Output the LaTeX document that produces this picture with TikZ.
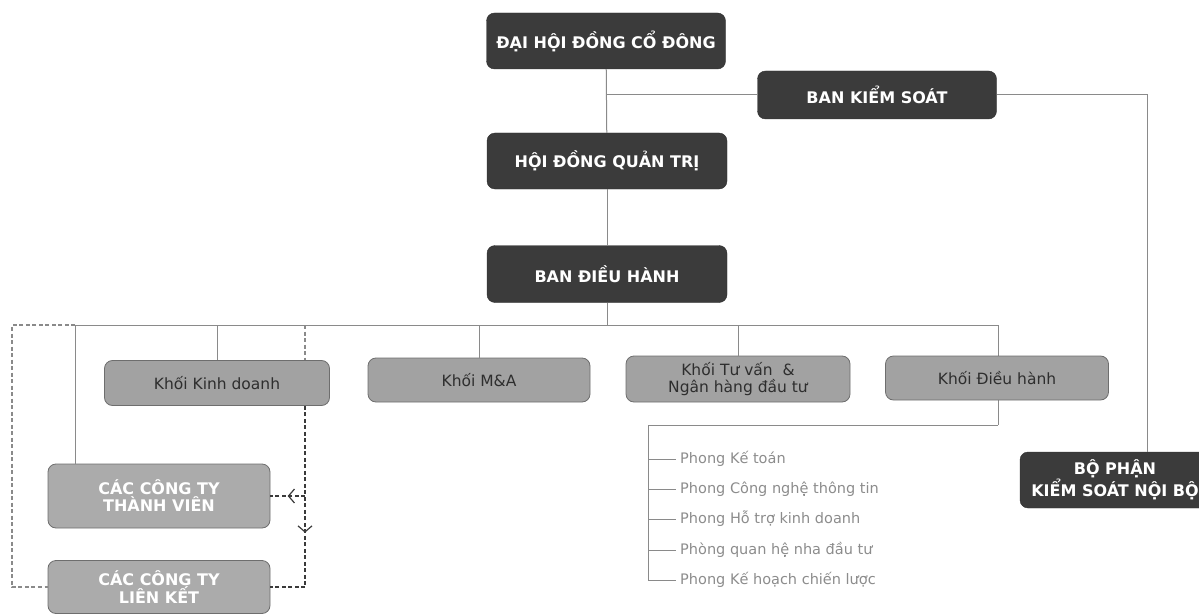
\documentclass[tikz,border=0pt]{standalone}
\usepackage{fontspec}
\setmainfont{DejaVu Sans}
\usetikzlibrary{decorations.markings}
\usetikzlibrary{arrows.meta}
\usetikzlibrary{math}

\definecolor{BoxDark}{HTML}{3B3B3B}
\definecolor{BoxGray}{HTML}{A2A2A2}
\definecolor{BoxLight}{HTML}{ABABAB}
\definecolor{BoxEdge}{HTML}{6E6E6E}
\definecolor{LineGray}{HTML}{8A8A8A}
\definecolor{DashDark}{HTML}{3A3A3A}
\definecolor{TextDark}{HTML}{2E2E2E}
\definecolor{TextGray}{HTML}{8C8C8C}

\tikzset{
    darkbox/.style={rounded corners=8pt, fill=BoxDark, draw=BoxDark!80!black, text=white,
        font=\bfseries\fontsize{16}{19}\selectfont, align=center, inner sep=0pt},
    graybox/.style={rounded corners=8pt, fill=BoxGray, draw=BoxEdge, line width=0.8pt, text=TextDark,
        font=\fontsize{15.5}{17}\selectfont, align=center, inner sep=0pt},
    lightbox/.style={rounded corners=8pt, fill=BoxLight, draw=BoxEdge, line width=0.8pt, text=white,
        font=\bfseries\fontsize{16}{17}\selectfont, align=center, inner sep=0pt},
    link/.style={draw=LineGray, line width=1pt},
    dashlight/.style={draw=LineGray, line width=1.4pt, dash pattern=on 4pt off 2.5pt},
    dashheavy/.style={draw=DashDark, line width=1.8pt, dash pattern=on 4pt off 2.5pt},
    phongitem/.style={anchor=west, text=TextGray, inner sep=0pt, font=\fontsize{14.5}{17}\selectfont},
}

\begin{document}
\begin{tikzpicture}[x=1pt, y=-1pt]

\useasboundingbox (0,0) rectangle (1199,615);

% Position settings
\tikzmath{
    \TrunkX = 606;
    \BusY = 325;
    \BusLeftX = 75;
    \BusRightX = 998;
    \OuterDashX = 12;
    \InnerDashX = 305;
    \DashBotY = 587;
    \KSRightX = 1147;
    \PhongX = 648;
    \PhongY = 425;
}

\coordinate (BusL) at (\BusLeftX, \BusY);
\coordinate (BusR) at (\BusRightX, \BusY);
\coordinate (OuterTop) at (\OuterDashX, \BusY);
\coordinate (DashTop) at (\InnerDashX, \BusY);
\coordinate (DashBot) at (\InnerDashX, \DashBotY);
\coordinate (PhongTop) at (\PhongX, \PhongY);
\coordinate (KSTurn) at (\KSRightX, 95);

% Lines running behind boxes
\draw [link] (BusR) -- (BusR |- PhongTop);
\draw [dashlight] (DashTop) -- (\InnerDashX, 405);

% Top management
\node [darkbox, minimum width=239pt, minimum height=56pt] (DHDCD) at (606, 41) {ĐẠI HỘI ĐỒNG CỔ ĐÔNG};
\node [darkbox, minimum width=239pt, minimum height=48pt] (BKS) at (877, 95) {BAN KIỂM SOÁT};
\node [darkbox, minimum width=240pt, minimum height=56pt] (HDQT) at (607, 161) {HỘI ĐỒNG QUẢN TRỊ};
\node [darkbox, minimum width=240pt, minimum height=57pt] (BDH) at (607, 274) {BAN ĐIỀU HÀNH};
\node [darkbox, minimum width=190pt, minimum height=56pt] (BPKS) at (1115, 480) {BỘ PHẬN\\KIỂM SOÁT NỘI BỘ};

% Divisions
\node [graybox, minimum width=225pt, minimum height=45pt] (KKD) at (217, 383) {Khối Kinh doanh};
\node [graybox, minimum width=222pt, minimum height=44pt] (KMA) at (479, 380) {Khối M\&A};
\node [graybox, minimum width=224pt, minimum height=46pt] (KTV) at (738, 379) {Khối Tư vấn \ \&\\Ngân hàng đầu tư};
\node [graybox, minimum width=223pt, minimum height=44pt] (KDH) at (997, 378) {Khối Điều hành};

% Subsidiaries
\node [lightbox, minimum width=222pt, minimum height=64pt] (CTTV) at (159, 496) {CÁC CÔNG TY\\THÀNH VIÊN};
\node [lightbox, minimum width=222pt, minimum height=53pt] (CTLK) at (159, 587) {CÁC CÔNG TY\\LIÊN KẾT};

% Departments of Khoi Dieu hanh
\node [phongitem] (P1) at (680, 459) {Phong Kế toán};
\node [phongitem] (P2) at (680, 489) {Phong Công nghệ thông tin};
\node [phongitem] (P3) at (680, 519) {Phong Hỗ trợ kinh doanh};
\node [phongitem] (P4) at (680, 550) {Phòng quan hệ nha đầu tư};
\node [phongitem] (P5) at (680, 580) {Phong Kế hoạch chiến lược};

% Trunk
\draw [link] (DHDCD) -- (HDQT);
\draw [link] (HDQT) -- (BDH);
\draw [link] (BDH) -- (BDH |- BusR);
\draw [link] (DHDCD.south |- BKS.west) -- (BKS.west);
\draw [link] (BKS.east) -- (KSTurn) -- (KSTurn |- BPKS.north);

% Bus and branches
\draw [link] (BusL) -- (BusR);
\draw [link] (KKD.north |- BusR) -- (KKD.north);
\draw [link] (KMA.north |- BusR) -- (KMA.north);
\draw [link] (KTV.north |- BusR) -- (KTV.north);
\draw [link] (BusL) -- (BusL |- CTTV.north);

% Departments bracket
\draw [link] (BusR |- PhongTop) -- (PhongTop) -- (PhongTop |- P5.west);
\draw [link] (PhongTop |- P1.west) -- ([xshift=-4pt]P1.west);
\draw [link] (PhongTop |- P2.west) -- ([xshift=-4pt]P2.west);
\draw [link] (PhongTop |- P3.west) -- ([xshift=-4pt]P3.west);
\draw [link] (PhongTop |- P4.west) -- ([xshift=-4pt]P4.west);
\draw [link] (PhongTop |- P5.west) -- ([xshift=-4pt]P5.west);

% Dashed ownership links
\draw [dashlight] (BusL) -- (OuterTop) |- (CTLK.west);
\begin{scope}[decoration={
    markings,
    mark=at position 0.7 with {\arrow{Straight Barb[length=6pt, width=14pt, line width=1.2pt]}}},
    ]
    \draw [dashheavy, postaction={decorate}] (DashTop |- KKD.south) -- (DashBot);
\end{scope}
\begin{scope}[decoration={
    markings,
    mark=at position 0.5 with {\arrow{Straight Barb[length=6pt, width=14pt, line width=1.2pt]}}},
    ]
    \draw [dashheavy, postaction={decorate}] (DashTop |- CTTV.east) -- (CTTV.east);
\end{scope}
\draw [dashheavy] (DashBot) -- (CTLK.east);

\end{tikzpicture}
\end{document}
